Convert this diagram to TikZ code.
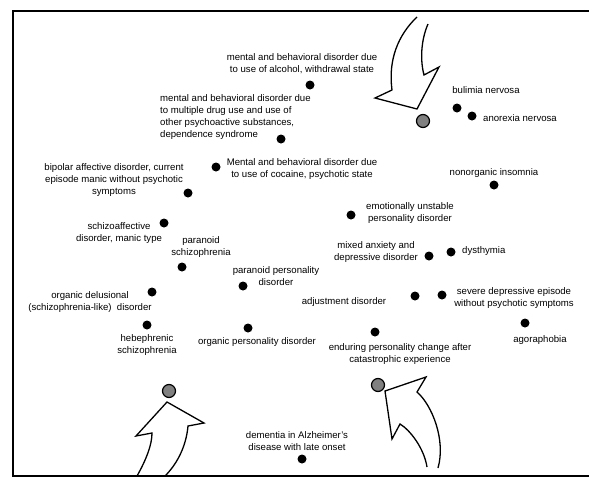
\documentclass[tikz,border=0pt]{standalone}
\usepackage{fontspec}
\setmainfont{Liberation Sans}
\begin{document}
\begin{tikzpicture}[x=1pt,y=-1pt,
  lbl/.style={inner sep=0pt,align=center,font=\fontsize{9.6}{12}\selectfont},
  lbll/.style={inner sep=0pt,align=left,anchor=west,font=\fontsize{9.6}{12}\selectfont},
  dot/.style={circle,fill=black,inner sep=0pt,minimum size=9pt},
  gdot/.style={circle,fill=black!50,draw=black,line width=1.2pt,inner sep=0pt,minimum size=13pt},
  bigarrow/.style={draw=black,line width=1.3pt,line join=miter}]
\useasboundingbox (0,0) rectangle (589,477);
% frame
\draw[line width=2pt] (589,11) -- (13,11) -- (13,476) -- (589,476);
% arrows
\draw[bigarrow,fill=white] (417,17) .. controls (398,35) and (388,60) .. (392,90) -- (375,98) -- (417,109) -- (439,67) -- (424,75) .. controls (420,60) and (421,40) .. (428,24);
\draw[bigarrow] (137,476) .. controls (146,460) and (152,445) .. (152,433) -- (136,436) -- (167,402) -- (204,423) -- (188,426) .. controls (186,448) and (176,465) .. (165,476);
\draw[bigarrow] (427,467) .. controls (424,448) and (410,430) .. (400,424) -- (392,439) -- (385,391) -- (426,377) -- (417,392) .. controls (432,405) and (446,440) .. (438,468);
% grey circles
\node[gdot] (g1) at (423,121) {};
\node[gdot] (g2) at (169,391) {};
\node[gdot] (g3) at (378,385) {};
% dots
\node[dot] (d1) at (310,85) {};
\node[dot] (d2) at (281,139) {};
\node[dot] (d3) at (216,167) {};
\node[dot] (d4) at (188,193) {};
\node[dot] (d5) at (164,223) {};
\node[dot] (d6) at (182,267) {};
\node[dot] (d7) at (243,286) {};
\node[dot] (d8) at (152,292) {};
\node[dot] (d9) at (147,325) {};
\node[dot] (d10) at (248,328) {};
\node[dot] (d11) at (302,459) {};
\node[dot] (d12) at (375,332) {};
\node[dot] (d13) at (525,323) {};
\node[dot] (d14) at (442,295) {};
\node[dot] (d15) at (415,296) {};
\node[dot] (d16) at (429,256) {};
\node[dot] (d17) at (451,252) {};
\node[dot] (d18) at (351,215) {};
\node[dot] (d19) at (494,185) {};
\node[dot] (d20) at (457,108) {};
\node[dot] (d21) at (472,116) {};
% labels
\node[lbl] (l1) at (302,63.5) {mental and behavioral disorder due\\to use of alcohol, withdrawal state};
\node[lbll] (l2) at (160,117) {mental and behavioral disorder due\\to multiple drug use and use of\\other psychoactive substances,\\dependence syndrome};
\node[lbl] (l3) at (302,169) {Mental and behavioral disorder due\\to use of cocaine, psychotic state};
\node[lbl] (l4) at (114,180) {bipolar affective disorder, current\\episode manic without psychotic\\symptoms};
\node[lbl] (l5) at (119,233) {schizoaffective\\disorder, manic type};
\node[lbl] (l6) at (201,247.5) {paranoid\\schizophrenia};
\node[lbl] (l7) at (276,276.5) {paranoid personality\\disorder};
\node[lbl] (l8) at (90,302) {organic delusional\\(schizophrenia-like)\ \ disorder};
\node[lbl] (l9) at (147,345.5) {hebephrenic\\schizophrenia};
\node[lbl] (l10) at (257,342) {organic personality disorder};
\node[lbl] (l11) at (297,441) {dementia in Alzheimer's\\disease with late onset};
\node[lbl] (l12) at (400,354.5) {enduring personality change after\\catastrophic experience};
\node[lbl] (l13) at (540,340) {agoraphobia};
\node[lbl] (l14) at (514,298.5) {severe depressive episode\\without psychotic symptoms};
\node[lbl] (l15) at (344,302) {adjustment disorder};
\node[lbl] (l16) at (376,252) {mixed anxiety and\\depressive disorder};
\node[lbll] (l17) at (462,251) {dysthymia};
\node[lbl] (l18) at (410,213) {emotionally unstable\\personality disorder};
\node[lbl] (l19) at (494,173) {nonorganic insomnia};
\node[lbl] (l20) at (486,90) {bulimia nervosa};
\node[lbl] (l21) at (520,118) {anorexia nervosa};
\end{tikzpicture}
\end{document}
